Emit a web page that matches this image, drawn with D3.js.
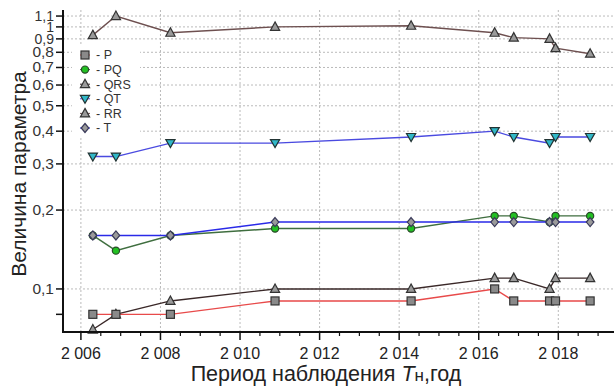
<!DOCTYPE html>
<html><head><meta charset="utf-8">
<script src="https://cdn.jsdelivr.net/npm/d3@7"></script>
<style>
html,body{margin:0;padding:0;background:#fff;}
svg{display:block;font-family:"Liberation Sans",Arial,sans-serif;}
</style></head>
<body>
<svg id="chart" width="614" height="390"></svg>
<script>
const years = [2006.3, 2006.88, 2008.25, 2010.88, 2014.3, 2016.4, 2016.88, 2017.78, 2017.93, 2018.8];
const seriesNames = ["P", "PQ", "QRS", "QT", "RR", "T"];
const P   = [0.08, 0.08, 0.08, 0.09, 0.09, 0.10, 0.09, 0.09, 0.09, 0.09];
const PQ  = [0.16, 0.14, 0.16, 0.17, 0.17, 0.19, 0.19, 0.18, 0.19, 0.19];
const QRS = [0.07, 0.08, 0.09, 0.10, 0.10, 0.11, 0.11, 0.10, 0.11, 0.11];
const QT  = [0.32, 0.32, 0.36, 0.36, 0.38, 0.40, 0.38, 0.36, 0.38, 0.38];
const RR  = [0.93, 1.10, 0.95, 1.00, 1.01, 0.95, 0.91, 0.90, 0.83, 0.79];
const T   = [0.16, 0.16, 0.16, 0.18, 0.18, 0.18, 0.18, 0.18, 0.18, 0.18];
const yTicks = [0.1, 0.2, 0.3, 0.4, 0.5, 0.6, 0.7, 0.8, 0.9, 1, 1.1];
const yMinorTicks = [0.08];
const xTicks = [2006, 2008, 2010, 2012, 2014, 2016, 2018];
const xTitle = "Период наблюдения ";
const yTitle = "Величина параметра";

const seriesValues = {P, PQ, QRS, QT, RR, T};
const styles = {
  P:   {line:"#e84a4a", shape:"square", fill:"#8a8a8a", stroke:"#333"},
  PQ:  {line:"#3f6e3f", shape:"circle", fill:"#22c022", stroke:"#2a4a2a"},
  QRS: {line:"#3a2828", shape:"tri",    fill:"#9a9a9a", stroke:"#333"},
  QT:  {line:"#4a4ae0", shape:"tridown",fill:"#30b8c8", stroke:"#233"},
  RR:  {line:"#6e5050", shape:"tri",    fill:"#9a9a9a", stroke:"#333"},
  T:   {line:"#2a2ae8", shape:"diamond",fill:"#9a9a9a", stroke:"#3a3a5a"}
};

const svg = d3.select("#chart");
const x = d3.scaleLinear().domain([2005.55, 2019.4]).range([63, 614]);
const y = d3.scaleLog().domain([0.0685, 1.16]).range([332, 10]);

// grid
const grid = svg.append("g");
grid.selectAll("line.v").data(xTicks).join("line")
  .attr("x1", d => x(d)).attr("x2", d => x(d)).attr("y1", 10).attr("y2", 332)
  .attr("stroke", "#bbb").attr("stroke-width", 1).attr("stroke-dasharray", "2,2");
grid.selectAll("line.h").data(yTicks).join("line")
  .attr("x1", 63).attr("x2", 614).attr("y1", d => y(d)).attr("y2", d => y(d))
  .attr("stroke", "#bbb").attr("stroke-width", 1).attr("stroke-dasharray", "2,2");

// legend background
const lg = svg.append("g");
lg.append("rect").attr("x", 72).attr("y", 46).attr("width", 68).attr("height", 90).attr("fill", "#fff");

function marker(g, shape, cx, cy, st) {
  if (shape === "square") {
    g.append("rect").attr("x", cx-4).attr("y", cy-4).attr("width", 8).attr("height", 8)
      .attr("fill", st.fill).attr("stroke", st.stroke).attr("stroke-width", 1.2);
  } else if (shape === "circle") {
    g.append("circle").attr("cx", cx).attr("cy", cy).attr("r", 3.6)
      .attr("fill", st.fill).attr("stroke", st.stroke).attr("stroke-width", 1.2);
  } else if (shape === "tri") {
    g.append("path").attr("d", `M${cx},${cy-5}L${cx+4.6},${cy+3.5}L${cx-4.6},${cy+3.5}Z`)
      .attr("fill", st.fill).attr("stroke", st.stroke).attr("stroke-width", 1.2);
  } else if (shape === "tridown") {
    g.append("path").attr("d", `M${cx-4.6},${cy-3.5}L${cx+4.6},${cy-3.5}L${cx},${cy+4.5}Z`)
      .attr("fill", st.fill).attr("stroke", st.stroke).attr("stroke-width", 1.2);
  } else if (shape === "diamond") {
    g.append("path").attr("d", `M${cx},${cy-4.5}L${cx+3.8},${cy}L${cx},${cy+4.5}L${cx-3.8},${cy}Z`)
      .attr("fill", st.fill).attr("stroke", st.stroke).attr("stroke-width", 1.2);
  }
}

// series
const line = d3.line().x(d => x(d[0])).y(d => y(d[1]));
const drawOrder = ["RR", "QT", "PQ", "T", "QRS", "P"];
drawOrder.forEach(name => {
  const vals = seriesValues[name];
  const pts = years.map((yr, i) => [yr, vals[i]]);
  const st = styles[name];
  const g = svg.append("g");
  g.append("path").datum(pts).attr("d", line).attr("fill", "none")
    .attr("stroke", st.line).attr("stroke-width", 1.4);
  pts.forEach(p => marker(g, st.shape, x(p[0]), y(p[1]), st));
});

// legend
seriesNames.forEach((name, i) => {
  const cy = 55 + i * 14.6;
  const st = styles[name];
  lg.append("line").attr("x1", 80).attr("x2", 90).attr("y1", cy).attr("y2", cy)
    .attr("stroke", st.line).attr("stroke-width", 1);
  marker(lg, st.shape, 85, cy, st);
  lg.append("text").attr("x", 96).attr("y", cy + 4.3).attr("font-size", 12.5)
    .attr("fill", "#333").text("- " + name);
});

// axes
const ax = svg.append("g");
ax.append("line").attr("x1", 63).attr("x2", 63).attr("y1", 10).attr("y2", 333)
  .attr("stroke", "#111").attr("stroke-width", 2);
ax.append("line").attr("x1", 62).attr("x2", 614).attr("y1", 332).attr("y2", 332)
  .attr("stroke", "#111").attr("stroke-width", 2);
ax.selectAll("line.yt").data(yTicks.concat(yMinorTicks)).join("line")
  .attr("x1", 56).attr("x2", 63).attr("y1", d => y(d)).attr("y2", d => y(d))
  .attr("stroke", "#111").attr("stroke-width", 1.5);
ax.selectAll("text.yl").data(yTicks).join("text")
  .attr("x", 54).attr("y", d => y(d) + 5).attr("text-anchor", "end")
  .attr("font-size", d => d >= 0.9 ? 14 : 15.5).attr("fill", "#333")
  .text(d => String(d).replace(".", ","));
const minorX = d3.range(2006, 2019.6, 0.5).filter(v => v % 2 !== 0);
ax.selectAll("line.xm").data(minorX).join("line")
  .attr("x1", d => x(d)).attr("x2", d => x(d)).attr("y1", 332).attr("y2", 336)
  .attr("stroke", "#111").attr("stroke-width", 1.2);
ax.selectAll("line.xt").data(xTicks).join("line")
  .attr("x1", d => x(d)).attr("x2", d => x(d)).attr("y1", 332).attr("y2", 340)
  .attr("stroke", "#111").attr("stroke-width", 1.5);
ax.selectAll("text.xl").data(xTicks).join("text")
  .attr("x", d => x(d)).attr("y", 359).attr("text-anchor", "middle")
  .attr("font-size", 16).attr("fill", "#222")
  .text(d => { const s = String(d); return s[0] + " " + s.slice(1); });

// titles
const xt = svg.append("text").attr("x", 326).attr("y", 381).attr("text-anchor", "middle")
  .attr("font-size", 21.5).attr("fill", "#222");
xt.append("tspan").text(xTitle);
xt.append("tspan").attr("font-style", "italic").text("T");
xt.append("tspan").attr("font-size", 17).text("н");
xt.append("tspan").text(",год");

svg.append("text").attr("transform", "translate(26,174) rotate(-90)")
  .attr("text-anchor", "middle").attr("font-size", 21).attr("fill", "#222").text(yTitle);
</script>
</body></html>
